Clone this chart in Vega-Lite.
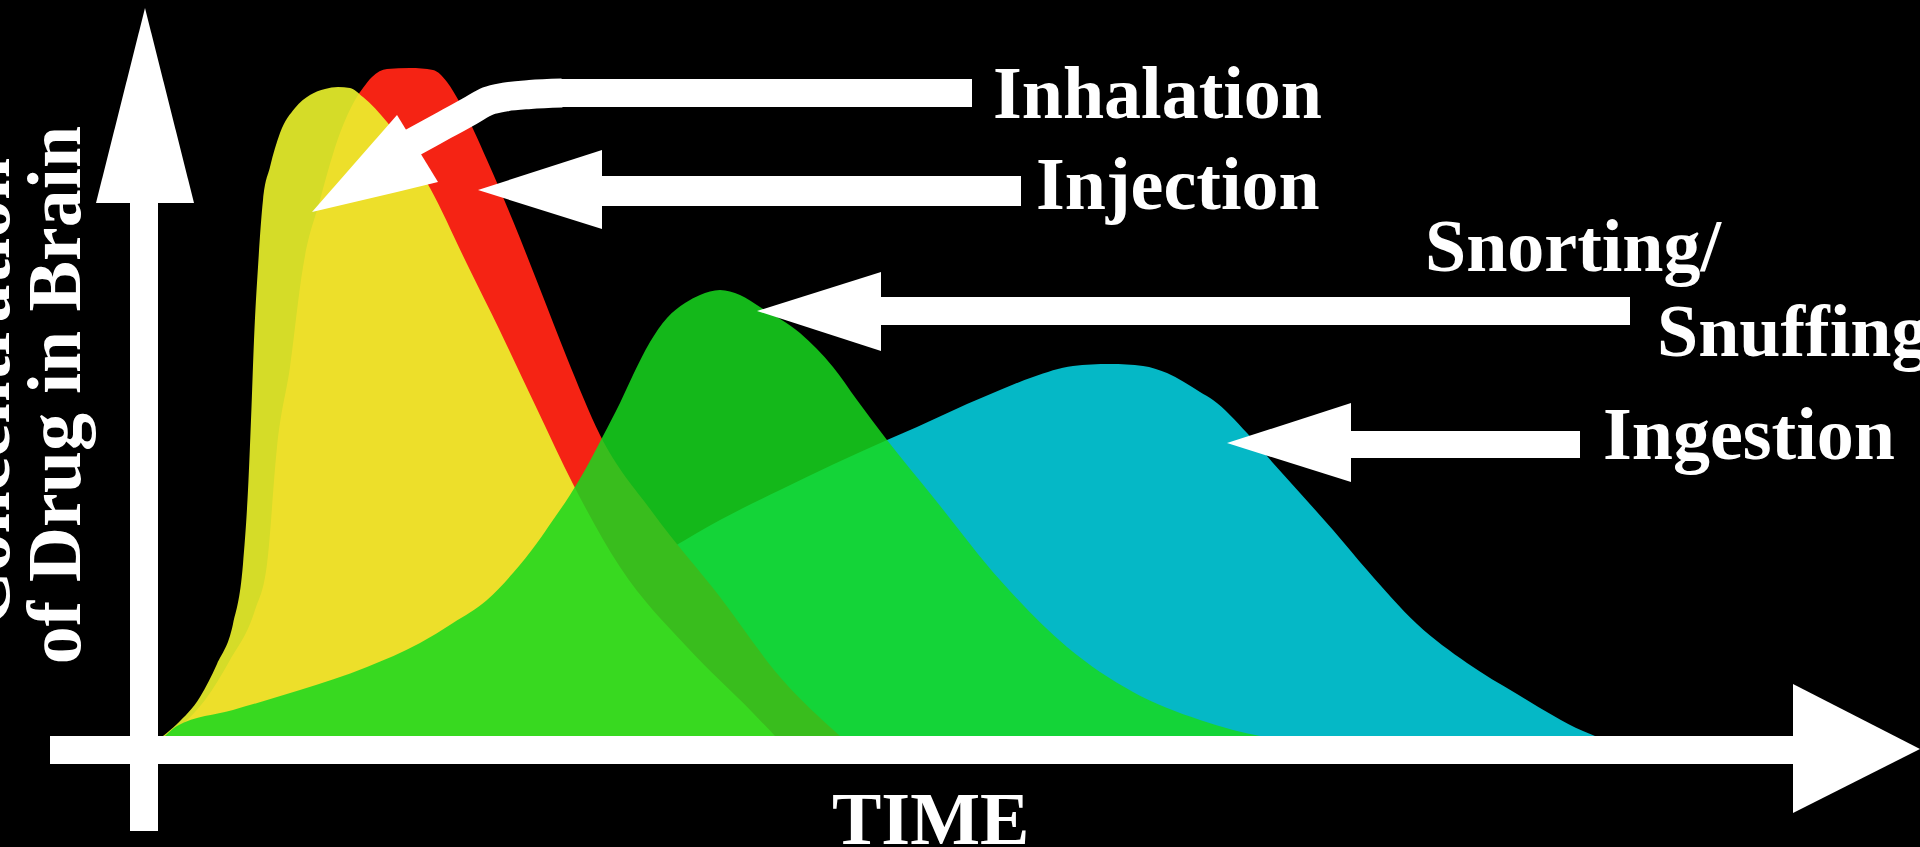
{
  "$schema": "https://vega.github.io/schema/vega-lite/v6.json",
  "width": 1920,
  "height": 847,
  "padding": 0,
  "autosize": {"type": "none"},
  "background": "#000000",
  "config": {"view": {"stroke": null}},
  "datasets": {
    "ingestion": [
      {"t": 26, "c": 0}, {"t": 156, "c": 21}, {"t": 256, "c": 46}, {"t": 356, "c": 86},
      {"t": 456, "c": 146}, {"t": 529, "c": 189}, {"t": 576, "c": 216}, {"t": 636, "c": 246},
      {"t": 743, "c": 296}, {"t": 773, "c": 309}, {"t": 823, "c": 332}, {"t": 856, "c": 346},
      {"t": 889, "c": 359}, {"t": 929, "c": 370}, {"t": 966, "c": 372}, {"t": 999, "c": 370},
      {"t": 1023, "c": 363}, {"t": 1056, "c": 344}, {"t": 1069, "c": 336}, {"t": 1103, "c": 303},
      {"t": 1129, "c": 273}, {"t": 1156, "c": 243}, {"t": 1189, "c": 206}, {"t": 1223, "c": 166},
      {"t": 1273, "c": 112}, {"t": 1323, "c": 73}, {"t": 1373, "c": 42}, {"t": 1439, "c": 5},
      {"t": 1451, "c": 0}
    ],
    "injection": [
      {"t": 23, "c": 0}, {"t": 41, "c": 14}, {"t": 61, "c": 36}, {"t": 86, "c": 76},
      {"t": 111, "c": 126}, {"t": 123, "c": 172}, {"t": 133, "c": 289}, {"t": 146, "c": 369},
      {"t": 159, "c": 469}, {"t": 176, "c": 536}, {"t": 196, "c": 603}, {"t": 211, "c": 636},
      {"t": 219, "c": 648}, {"t": 228, "c": 659}, {"t": 243, "c": 667}, {"t": 266, "c": 668},
      {"t": 289, "c": 666}, {"t": 303, "c": 654}, {"t": 316, "c": 633}, {"t": 343, "c": 576},
      {"t": 369, "c": 515}, {"t": 396, "c": 447}, {"t": 423, "c": 378}, {"t": 456, "c": 301},
      {"t": 509, "c": 223}, {"t": 576, "c": 139}, {"t": 636, "c": 59}, {"t": 696, "c": 0}
    ],
    "inhalation": [
      {"t": 19, "c": 0}, {"t": 33, "c": 12}, {"t": 56, "c": 39}, {"t": 73, "c": 72},
      {"t": 89, "c": 112}, {"t": 99, "c": 172}, {"t": 104, "c": 246}, {"t": 107, "c": 316},
      {"t": 110, "c": 396}, {"t": 114, "c": 469}, {"t": 119, "c": 536}, {"t": 126, "c": 569},
      {"t": 136, "c": 603}, {"t": 151, "c": 628}, {"t": 166, "c": 641}, {"t": 181, "c": 647},
      {"t": 194, "c": 649}, {"t": 206, "c": 648}, {"t": 219, "c": 639}, {"t": 243, "c": 614},
      {"t": 286, "c": 548}, {"t": 323, "c": 472}, {"t": 356, "c": 405}, {"t": 393, "c": 327},
      {"t": 429, "c": 252}, {"t": 476, "c": 169}, {"t": 543, "c": 89}, {"t": 609, "c": 23},
      {"t": 631, "c": 0}
    ],
    "snorting": [
      {"t": 21, "c": 0}, {"t": 33, "c": 10}, {"t": 89, "c": 26}, {"t": 156, "c": 46},
      {"t": 223, "c": 69}, {"t": 276, "c": 93}, {"t": 309, "c": 113}, {"t": 343, "c": 136},
      {"t": 369, "c": 163}, {"t": 393, "c": 193}, {"t": 409, "c": 216}, {"t": 426, "c": 241},
      {"t": 441, "c": 266}, {"t": 459, "c": 300}, {"t": 476, "c": 333}, {"t": 489, "c": 361},
      {"t": 506, "c": 394}, {"t": 523, "c": 418}, {"t": 541, "c": 433}, {"t": 556, "c": 441},
      {"t": 576, "c": 446}, {"t": 596, "c": 441}, {"t": 616, "c": 429}, {"t": 656, "c": 403},
      {"t": 689, "c": 369}, {"t": 713, "c": 336}, {"t": 743, "c": 296}, {"t": 789, "c": 239},
      {"t": 856, "c": 156}, {"t": 923, "c": 89}, {"t": 989, "c": 44}, {"t": 1056, "c": 16},
      {"t": 1089, "c": 6}, {"t": 1116, "c": 0}
    ],
    "bars": [
      {"id": "yaxis", "t": -14, "t2": 14, "c": -95, "c2": 535},
      {"id": "xaxis", "t": -94, "t2": 1651, "c": 0, "c2": -28},
      {"id": "inhalation", "t": 413, "t2": 828, "c": 657, "c2": 629},
      {"id": "injection", "t": 456, "t2": 877, "c": 560, "c2": 530},
      {"id": "snorting", "t": 735, "t2": 1486, "c": 439, "c2": 411},
      {"id": "ingestion", "t": 1205, "t2": 1436, "c": 305, "c2": 278}
    ],
    "inhalationCurve": [
      {"t": 418, "c": 643}, {"t": 386, "c": 641.5}, {"t": 361, "c": 639}, {"t": 344, "c": 635},
      {"t": 326, "c": 625}, {"t": 306, "c": 614}, {"t": 286, "c": 603}, {"t": 264, "c": 591}
    ],
    "headsUp": [
      {"id": "yaxis", "t": -48, "c": 533, "c2": 533},
      {"id": "yaxis", "t": 1, "c": 728, "c2": 533},
      {"id": "yaxis", "t": 50, "c": 533, "c2": 533},
      {"id": "inhalation", "t": 168, "c": 524, "c2": 524},
      {"id": "inhalation", "t": 253, "c": 621, "c2": 544},
      {"id": "inhalation", "t": 294, "c": 554, "c2": 554}
    ],
    "headsSide": [
      {"id": "xaxis", "c": 52, "t": 1649, "t2": 1649},
      {"id": "xaxis", "c": -13, "t": 1776, "t2": 1649},
      {"id": "xaxis", "c": -77, "t": 1649, "t2": 1649},
      {"id": "injection", "c": 586, "t": 458, "t2": 458},
      {"id": "injection", "c": 546, "t": 334, "t2": 458},
      {"id": "injection", "c": 507, "t": 458, "t2": 458},
      {"id": "snorting", "c": 464, "t": 737, "t2": 737},
      {"id": "snorting", "c": 425, "t": 613, "t2": 737},
      {"id": "snorting", "c": 385, "t": 737, "t2": 737},
      {"id": "ingestion", "c": 333, "t": 1207, "t2": 1207},
      {"id": "ingestion", "c": 293, "t": 1083, "t2": 1207},
      {"id": "ingestion", "c": 254, "t": 1207, "t2": 1207}
    ],
    "labels": [
      {"label": "Inhalation", "t": 849, "c": 618},
      {"label": "Injection", "t": 892, "c": 527},
      {"label": "Snorting/", "t": 1281, "c": 465},
      {"label": "Snuffing", "t": 1513, "c": 380},
      {"label": "Ingestion", "t": 1459, "c": 277},
      {"label": "TIME", "t": 688, "c": -108}
    ],
    "ylabel": [
      {"label": "Concentration", "t": -135, "c": 344},
      {"label": "of Drug in Brain", "t": -64, "c": 341}
    ]
  },
  "encoding": {
    "x": {"field": "t", "type": "quantitative", "scale": {"domain": [-144, 1776], "nice": false, "zero": false}, "axis": null},
    "y": {"field": "c", "type": "quantitative", "scale": {"domain": [-111, 736], "nice": false, "zero": false}, "axis": null}
  },
  "layer": [
    {
      "data": {"name": "ingestion"},
      "mark": {"type": "area", "orient": "vertical", "interpolate": "monotone", "fill": "#05b8c6"},
      "encoding": {"y2": {"datum": 0}}
    },
    {
      "data": {"name": "injection"},
      "mark": {"type": "area", "orient": "vertical", "interpolate": "monotone", "fill": "#f52314"},
      "encoding": {"y2": {"datum": 0}}
    },
    {
      "data": {"name": "inhalation"},
      "mark": {"type": "area", "orient": "vertical", "interpolate": "monotone", "fill": "#ecf42c", "fillOpacity": 0.9},
      "encoding": {"y2": {"datum": 0}}
    },
    {
      "data": {"name": "snorting"},
      "mark": {"type": "area", "orient": "vertical", "interpolate": "monotone", "fill": "#18d81f", "fillOpacity": 0.85},
      "encoding": {"y2": {"datum": 0}}
    },
    {
      "data": {"name": "bars"},
      "mark": {"type": "rect", "fill": "#ffffff"},
      "encoding": {"x2": {"field": "t2"}, "y2": {"field": "c2"}}
    },
    {
      "data": {"name": "inhalationCurve"},
      "mark": {"type": "line", "stroke": "#ffffff", "strokeWidth": 29, "interpolate": "monotone", "strokeCap": "butt"},
      "encoding": {}
    },
    {
      "data": {"name": "headsUp"},
      "mark": {"type": "area", "orient": "vertical", "interpolate": "linear", "fill": "#ffffff"},
      "encoding": {"y2": {"field": "c2"}, "detail": {"field": "id"}}
    },
    {
      "data": {"name": "headsSide"},
      "mark": {"type": "area", "orient": "horizontal", "interpolate": "linear", "fill": "#ffffff"},
      "encoding": {"x2": {"field": "t2"}, "detail": {"field": "id"}}
    },
    {
      "data": {"name": "labels"},
      "mark": {"type": "text", "align": "left", "baseline": "alphabetic", "font": "Liberation Serif", "fontWeight": "bold", "fontSize": 74, "fill": "#ffffff"},
      "encoding": {"text": {"field": "label"}}
    },
    {
      "data": {"name": "ylabel"},
      "mark": {"type": "text", "align": "center", "baseline": "alphabetic", "angle": 270, "font": "Liberation Serif", "fontWeight": "bold", "fontSize": 76, "fill": "#ffffff"},
      "encoding": {"text": {"field": "label"}}
    }
  ]
}
